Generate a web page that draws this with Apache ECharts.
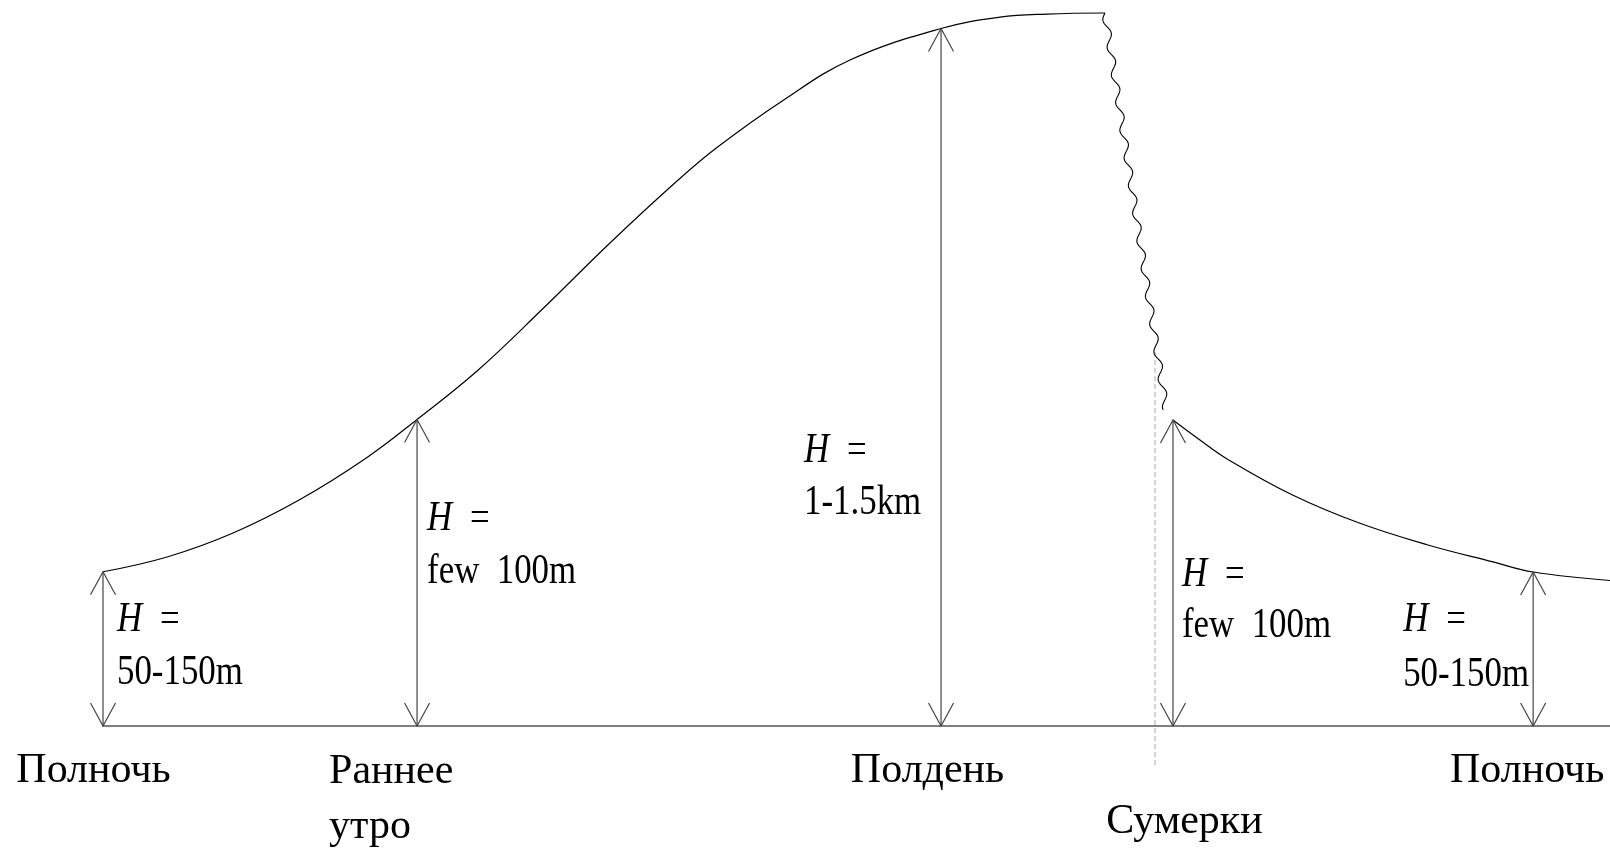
<!DOCTYPE html>
<html><head><meta charset="utf-8">
<script src="https://cdn.jsdelivr.net/npm/echarts@6.0.0/dist/echarts.min.js"></script>
<style>html,body{margin:0;padding:0;background:#fff}#c{width:1610px;height:849px}</style>
</head><body><div id="c"></div>
<script>
// Schematic position in the day (0..100) and relative boundary-layer height (0..100)
const dayCurveX = [0, 4.25, 8.63, 13.07, 17.52, 20.84, 24.82, 29.2, 33.64, 38.09, 40.74, 45.12, 49.57, 55.61, 59.52, 62.64, 66.49];
const dayCurveY = [21.6, 23.67, 27.03, 31.72, 37.61, 42.93, 49.72, 58.47, 67.65, 76.33, 81.02, 87.61, 93.28, 97.69, 99.27, 99.71, 99.86];
const nightCurveX = [71.0, 72.79, 74.59, 78.97, 83.41, 87.86, 92.24, 94.9, 100];
const nightCurveY = [42.86, 40.06, 37.41, 32.32, 28.39, 25.39, 22.98, 21.57, 20.38];
const collapseFrom = [66.49, 99.86];
const collapseTo = [70.54, 44.26];
const duskLine = [69.81, -5.46, 52.8];          // x, yBottom, yTop
const categories = ['Полночь', 'Раннее\nутро', 'Полдень', 'Сумерки', 'Полночь'];
const eventX = [0, 20.84, 55.61, 71.0, 94.9];
const eventH = [21.6, 42.93, 97.69, 42.86, 21.57];
const heightLabels = ['50-150m', 'few  100m', '1-1.5km', 'few  100m', '50-150m'];

// text layout (pixel offsets relative to each arrow's foot)
const catLayout = [
  {dx: -9.5, dy: 45, align: 'center'},
  {dx: -88, dy: 46, align: 'left'},
  {dx: -13.5, dy: 45, align: 'center'},
  {dx: 11.5, dy: 96, align: 'center'},
  {dx: -6, dy: 45, align: 'center'}
];
const hLayout = [
  {dx: 14, hy: -106, vy: -53},
  {dx: 10, hy: -207, vy: -154},
  {dx: -137, hy: -275, vy: -223},
  {dx: 9, hy: -151, vy: -100},
  {dx: -130, hy: -106, vy: -51}
];

const FONT = "'Liberation Serif','Times New Roman',serif";
const chart = echarts.init(document.getElementById('c'), null, {renderer: 'canvas'});

function zip(a, b) { return a.map((v, i) => [v, b[i]]); }

function txt(x, y, text, opt) {
  opt = opt || {};
  return {
    type: 'text', x: x, y: y, scaleX: opt.scaleX || 1,
    style: {
      text: text, fontFamily: FONT, fontSize: opt.size || 42,
      fontStyle: opt.italic ? 'italic' : 'normal',
      fill: '#000', align: opt.align || 'left', verticalAlign: 'middle'
    }
  };
}

const option = {
  animation: false,
  backgroundColor: '#fff',
  grid: {left: 103, right: 0, top: 12, bottom: 123},
  xAxis: {
    type: 'value', min: 0, max: 100,
    axisLine: {show: true, onZero: false, lineStyle: {color: '#555', width: 1.5}},
    axisTick: {show: false}, axisLabel: {show: false}, splitLine: {show: false}
  },
  yAxis: {
    type: 'value', min: 0, max: 100, show: false, splitLine: {show: false}
  },
  series: [
    {
      type: 'line', data: zip(dayCurveX, dayCurveY), smooth: 0.4, symbol: 'none',
      lineStyle: {color: '#000', width: 1.2}, z: 3
    },
    {
      type: 'line', data: zip(nightCurveX, nightCurveY), smooth: 0.4, symbol: 'none',
      lineStyle: {color: '#000', width: 1.2}, z: 3
    },
    {
      type: 'custom', clip: false, z: 4,
      data: [[collapseFrom[0], collapseFrom[1], collapseTo[0], collapseTo[1]]],
      renderItem: function (params, api) {
        const a = api.coord([api.value(0), api.value(1)]);
        const b = api.coord([api.value(2), api.value(3)]);
        const L = Math.hypot(b[0] - a[0], b[1] - a[1]);
        const ux = (b[0] - a[0]) / L, uy = (b[1] - a[1]) / L;
        const nx = -uy, ny = ux;
        const pts = [];
        const period = 28, amp = 3.2;
        for (let s = 0; s <= L; s += 1) {
          const o = amp * Math.sin(2 * Math.PI * s / period);
          pts.push([a[0] + ux * s + nx * o, a[1] + uy * s + ny * o]);
        }
        return {type: 'polyline', shape: {points: pts}, style: {stroke: '#000', lineWidth: 1.1, fill: null}};
      }
    },
    {
      type: 'custom', clip: false, z: 2,
      data: [duskLine],
      renderItem: function (params, api) {
        const p0 = api.coord([api.value(0), api.value(1)]);
        const p1 = api.coord([api.value(0), api.value(2)]);
        return {type: 'line', shape: {x1: p0[0], y1: p0[1], x2: p1[0], y2: p1[1]},
          style: {stroke: '#aaa', lineWidth: 1, lineDash: [5, 3]}};
      }
    },
    {
      type: 'custom', clip: false, z: 5,
      data: zip(eventX, eventH),
      renderItem: function (params, api) {
        const i = params.dataIndex;
        const foot = api.coord([api.value(0), 0]);
        const head = api.coord([api.value(0), api.value(1)]);
        const w = 12.5, l = 23;
        const ch = [];
        const st = {stroke: '#444', lineWidth: 1.2, fill: null};
        ch.push({type: 'line', shape: {x1: foot[0], y1: foot[1], x2: head[0], y2: head[1]}, style: st});
        ch.push({type: 'polyline', shape: {points: [[head[0] - w, head[1] + l], [head[0], head[1]], [head[0] + w, head[1] + l]]}, style: st});
        ch.push({type: 'polyline', shape: {points: [[foot[0] - w, foot[1] - l], [foot[0], foot[1]], [foot[0] + w, foot[1] - l]]}, style: st});
        // category label
        const cl = catLayout[i];
        categories[i].split('\n').forEach(function (line, k) {
          ch.push(txt(foot[0] + cl.dx, foot[1] + cl.dy + k * 55, line, {align: cl.align}));
        });
        // H = value label
        const hl = hLayout[i];
        const sx = 0.83;
        ch.push(txt(foot[0] + hl.dx, foot[1] + hl.hy, 'H', {italic: true, scaleX: sx}));
        ch.push(txt(foot[0] + hl.dx + 43, foot[1] + hl.hy, '=', {scaleX: sx}));
        ch.push(txt(foot[0] + hl.dx, foot[1] + hl.vy, heightLabels[i], {scaleX: sx}));
        return {type: 'group', children: ch};
      }
    }
  ]
};
chart.setOption(option);
</script>
</body></html>
